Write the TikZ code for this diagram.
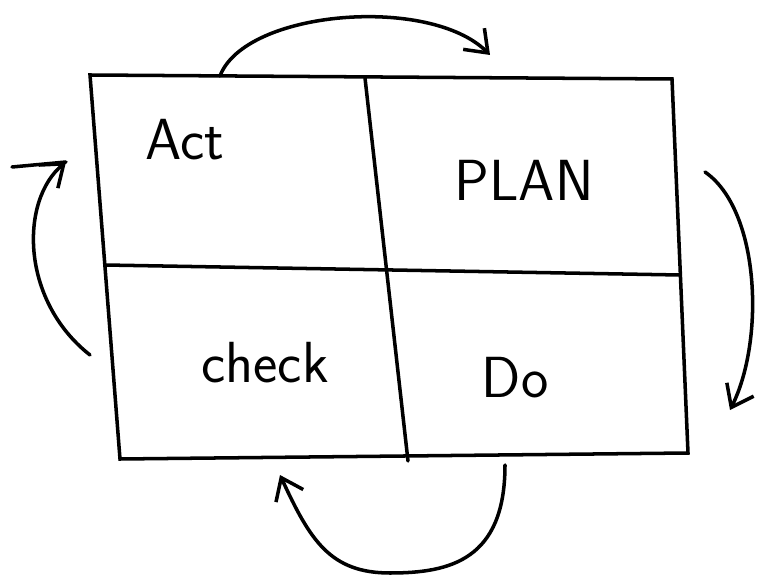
\documentclass[tikz,border=0pt]{standalone}
\usepackage{tikz}
\usetikzlibrary{arrows.meta}
\usetikzlibrary{positioning}

\begin{document}
\begin{tikzpicture}[x=0.02cm,y=-0.02cm,>={Straight Barb[length=4mm,width=6mm,line width=2pt]},line width=2pt,line cap=round,
	lbl/.style={font=\sffamily\fontsize{33}{40}\selectfont}]
	\useasboundingbox (0,0) rectangle (757,577);
	% corners of the box
	\coordinate (tl) at (90,75); \coordinate (tr) at (672,79);
	\coordinate (bl) at (120,459); \coordinate (br) at (688,453);
	\coordinate (ml) at (105,265); \coordinate (mr) at (680,275);
	\coordinate (mt) at (365,78); \coordinate (mb) at (408,461);
	\draw (tl)--(tr)--(br)--(bl)--cycle;
	\draw (ml)--(mr);
	\draw (mt)--(mb);
	\node[lbl] (act) at (185,140) {Act};
	\node[lbl] (plan) at (524,180) {PLAN};
	\node[lbl] (check) at (265,363) {check};
	\node[lbl] (do) at (515,378) {Do};
	% cycle arrows
	\coordinate (a1) at (220,76); \coordinate (a2) at (490,55);
	\coordinate (b1) at (705,172); \coordinate (b2) at (730,410);
	\coordinate (c1) at (505,465); \coordinate (c2) at (390,573); \coordinate (c3) at (280,475);
	\coordinate (d1) at (90,355); \coordinate (d2) at (66,162); \coordinate (d0) at (12,167);
	\draw[->] (a1) .. controls (245,10) and (430,-5) .. (a2);
	\draw[->] (b1) .. controls (760,210) and (765,340) .. (b2);
	\draw[->] (c1) .. controls (505,560) and (450,573) .. (c2) .. controls (330,573) and (310,540) .. (c3);
	\draw[->] (d1) .. controls (20,300) and (20,200) .. (d2);
	\draw (d0)--(d2);
\end{tikzpicture}
\end{document}
